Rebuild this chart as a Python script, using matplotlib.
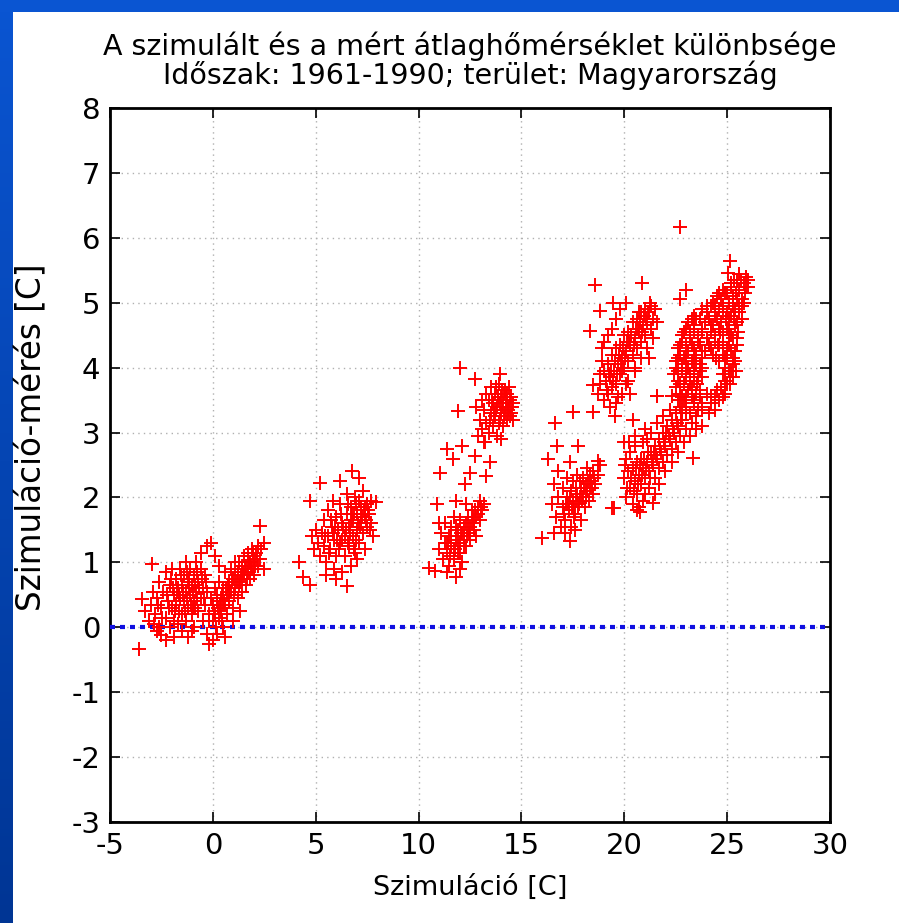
import numpy as np
import matplotlib
matplotlib.use("Agg")
import matplotlib.pyplot as plt
from matplotlib.colors import LinearSegmentedColormap

plt.rcParams['font.family'] = ['DejaVu Sans']
plt.rcParams['axes.unicode_minus'] = False

# ---- data (Szimuláció [C], Szimuláció-mérés [C]) ----
c1_x = [-3.6,-3.45,-2.95,-3.3,-3.1,-3.0,-2.9,-2.8,-2.7,-2.7,-2.6,-2.5,-2.5,-2.4,-2.3,-2.3,-2.2,-2.1,-2.1,-2.0,
        -2.0,-1.9,-1.9,-1.8,-1.8,-1.7,-1.7,-1.6,-1.6,-1.5,-1.5,-1.4,-1.4,-1.3,-1.3,-1.3,-1.2,-1.2,-1.1,-1.1,
        -1.0,-1.0,-1.0,-0.9,-0.9,-0.8,-0.8,-0.7,-0.7,-0.6,-0.6,-0.5,-0.5,-0.4,-0.4,-0.3,-0.3,-0.6,-1.2,-1.9,
        -2.3,-0.9,-2.6,-1.5,-0.2,-1.45,-1.15,-0.85,-1.65,-0.55,-1.25,-0.95,-1.75,-2.15,-0.45,
        -2.45,-2.25,-2.05,-1.85,-1.65,-1.55,-1.35,-1.25,-1.05,-0.95,-0.75,-0.65,-0.85,-1.15,-1.45,-0.35,
        -0.75,-1.95,-2.65,-2.85]
c1_y = [-0.33,0.44,0.97,0.25,0.1,0.35,0.55,0.2,-0.05,0.45,0.7,0.3,-0.12,0.55,0.15,0.85,0.4,0.0,0.65,0.3,
        0.9,0.5,0.1,0.75,0.35,0.05,0.6,0.45,0.9,0.2,0.65,0.4,0.8,0.1,0.55,1.0,0.3,0.7,0.5,0.9,
        0.2,0.65,-0.05,0.4,0.8,0.55,1.0,0.25,0.7,0.45,0.9,0.1,0.6,0.35,0.8,0.55,1.25,1.15,-0.15,-0.15,
        -0.2,0.0,0.0,-0.05,0.1,0.5,0.6,0.65,0.25,0.75,0.85,0.3,0.55,0.3,0.45,
        0.15,0.5,0.75,0.25,0.5,0.8,0.25,0.45,0.35,0.55,0.45,0.6,0.3,0.75,0.55,0.7,
        0.85,0.6,0.35,0.05]

c2_x = [-0.3,-0.2,-0.1,0.0,0.0,0.0,0.1,0.1,0.2,0.2,0.3,0.3,0.4,0.4,0.5,0.5,0.6,0.6,0.7,0.7,
        0.8,0.8,0.9,0.9,1.0,1.0,1.1,1.1,1.2,1.2,1.3,1.4,1.4,1.5,1.5,1.6,1.6,1.7,1.7,1.8,
        1.8,1.9,1.9,2.0,2.0,2.1,2.2,2.2,2.3,2.5,2.3,0.1,-0.1,0.6,1.0,2.5,0.3,-0.2,1.3,0.25,
        0.55,0.85,1.15,1.45,1.75,2.05,0.45,0.75,1.05,1.35,1.65,1.95,
        0.05,0.35,0.65,0.95,1.25,1.55,1.85,2.15,0.2,0.5,0.8,1.1,1.4,1.7,2.0,0.15,0.45,1.25,1.95,2.35]
c2_y = [-0.1,0.2,0.45,-0.2,0.1,0.35,0.6,0.2,-0.1,0.4,0.15,0.7,0.45,0.25,0.0,0.6,0.35,0.85,0.5,0.2,
        0.7,0.4,0.9,0.55,0.3,0.75,0.6,1.0,0.45,0.85,0.7,0.95,0.55,0.8,1.1,0.65,0.95,0.85,1.15,0.75,
        1.0,0.9,1.2,1.05,0.8,1.15,0.95,1.25,1.05,1.3,1.56,1.1,1.3,-0.15,0.1,0.9,0.95,-0.25,0.25,0.3,
        0.4,0.55,0.7,0.85,1.0,0.95,0.5,0.65,0.5,0.8,0.75,1.1,
        0.25,0.35,0.6,0.7,0.65,0.9,0.95,1.05,0.5,0.35,0.55,0.8,0.75,1.0,0.95,0.0,0.1,1.0,1.15,1.2]

c3_x = [4.2,4.4,4.7,4.7,5.2,5.85,6.75,6.5,7.8,7.95,4.8,4.9,5.0,5.1,5.2,5.3,5.4,5.4,5.5,5.6,
        5.6,5.7,5.8,5.9,5.9,6.0,6.0,6.1,6.2,6.2,6.3,6.3,6.4,6.4,6.5,6.5,6.6,6.6,6.7,6.7,
        6.8,6.8,6.9,6.9,7.0,7.0,7.1,7.1,7.2,7.2,7.3,7.3,7.4,7.5,7.5,7.6,7.7,7.7,7.4,6.0,
        5.5,7.0,6.2,7.1,6.45,6.75,7.05,7.35,6.15,5.85,6.55,6.95,7.25,
        5.75,6.05,6.35,6.65,6.85,7.15,7.45,7.55,6.25,6.55,6.85,5.45,5.65,7.65,6.95,6.3,7.2,6.7,5.95,7.4]
c3_y = [1.0,0.77,0.65,1.95,2.23,1.95,2.41,0.64,1.41,1.93,1.4,1.2,1.5,1.3,1.1,1.45,1.25,1.65,1.0,1.4,
        1.8,1.2,1.55,0.9,1.35,1.7,1.1,1.5,1.3,1.9,0.85,1.6,1.1,1.4,1.75,2.05,1.25,1.55,0.95,1.85,
        1.4,1.65,1.15,2.0,1.5,1.75,1.3,1.95,1.6,1.85,1.45,2.1,1.7,1.55,1.9,1.75,1.6,1.95,1.2,0.75,
        0.8,1.05,2.25,2.3,1.5,1.75,1.6,1.8,1.2,1.45,1.3,1.35,1.7,
        1.65,1.35,1.55,1.45,1.75,1.55,1.65,1.8,1.75,1.9,1.2,1.4,1.15,1.5,1.9,1.35,1.7,1.65,1.55,1.85]

c4_x = [10.5,10.8,11.8,11.8,10.9,11.0,11.1,11.2,11.3,11.3,11.4,11.5,11.5,11.6,11.6,11.7,11.8,11.9,11.9,12.0,
        12.0,12.1,12.2,12.2,12.3,12.4,12.4,12.5,12.6,12.6,12.7,12.8,12.9,13.0,13.0,13.1,13.2,12.8,11.0,11.4,
        12.3,11.7,12.0,11.45,11.75,12.05,12.35,12.65,
        11.6,11.9,12.1,12.3,12.5,12.7,11.8,12.0,11.4,12.2,12.9,11.7,12.45,12.75,11.55,13.05]
c4_y = [0.92,0.87,0.77,1.95,1.9,1.2,1.45,1.05,1.3,1.6,1.15,1.4,0.95,1.25,1.55,1.05,1.35,1.15,1.5,1.3,
        1.65,1.0,1.4,1.55,1.25,1.5,1.7,1.35,1.6,1.8,1.5,1.7,1.85,1.65,1.95,1.8,1.9,1.4,1.6,0.85,
        1.9,1.7,0.9,1.3,1.2,1.45,1.4,1.7,
        1.4,1.3,1.45,1.6,1.55,1.65,1.55,1.15,1.3,1.25,1.75,1.2,1.45,1.8,1.1,1.85]

c5_x = [12.0,12.74,13.96,11.93,11.37,11.04,12.26,13.3,12.5,11.69,12.1,13.47,12.74,13.23,
        12.9,13.0,13.1,13.2,13.2,13.3,13.4,13.4,13.5,13.5,13.6,13.6,13.7,13.7,13.8,13.8,
        13.9,13.9,14.0,14.0,14.1,14.1,14.2,14.2,14.3,14.3,14.4,14.4,14.5,14.5,14.6,13.3,
        13.1,12.8,14.6,14.0,13.85,14.15,14.35,13.65,13.95,14.25,
        13.75,13.85,14.05,14.15,14.25,14.35,14.45,13.55,13.65,13.95,14.05,14.3,14.55,13.45,13.75,14.45]
c5_y = [4.0,3.82,3.9,3.33,2.74,2.38,2.2,2.33,2.38,2.59,2.79,2.54,2.64,2.85,
        2.95,3.2,3.05,3.35,2.85,3.15,3.5,3.0,3.3,3.7,3.1,3.45,3.25,3.6,2.95,3.4,
        3.15,3.75,3.3,3.55,3.1,3.45,3.3,3.65,3.2,3.5,3.4,3.7,3.3,3.55,3.45,3.6,
        3.5,3.4,3.2,2.9,3.5,3.25,3.35,3.35,3.45,3.55,
        3.35,3.55,3.4,3.6,3.4,3.3,3.5,3.5,3.3,3.2,3.65,3.6,3.4,3.2,3.7,3.25]

c6_x = [16.0,17.36,19.39,16.3,16.63,17.52,17.77,16.71,17.36,18.74,
        16.5,16.6,16.7,16.8,16.8,16.9,17.0,17.0,17.1,17.2,17.2,17.3,17.4,17.4,17.5,17.5,
        17.6,17.7,17.7,17.8,17.9,17.9,18.0,18.0,18.1,18.2,18.2,18.3,18.4,18.5,18.5,18.6,
        18.7,17.1,16.6,17.6,18.8,17.25,17.55,17.85,18.15,18.35,
        17.15,17.45,17.65,17.75,17.95,18.05,18.25,18.45,17.35,17.55,17.85,18.15,18.35,17.05,18.55,17.65]
c6_y = [1.38,1.33,1.84,2.59,3.15,3.31,2.79,2.79,2.54,2.56,
        1.9,2.2,1.7,2.0,2.4,1.55,1.85,2.15,1.65,2.0,2.3,1.8,2.1,1.55,1.95,2.25,
        1.75,2.05,2.35,1.9,2.15,1.65,2.0,2.3,1.85,2.1,2.45,1.95,2.25,2.05,2.4,2.2,
        2.35,1.45,1.45,1.5,2.5,1.9,1.85,2.0,2.2,2.15,
        1.9,1.85,2.15,1.85,1.95,2.15,2.25,2.15,2.0,1.7,2.25,2.0,2.35,1.75,2.3,1.95]

c7_x = [18.58,20.85,18.82,18.34,18.5,18.5,19.55,20.44,21.57,19.47,
        19.0,19.1,19.2,19.2,19.3,19.4,19.4,19.5,19.6,19.6,19.7,19.8,19.8,19.9,20.0,20.0,
        20.1,20.2,20.2,20.3,20.4,20.4,20.5,20.6,20.6,20.7,20.8,20.8,20.9,21.0,21.0,21.1,
        21.2,21.3,21.3,19.0,19.3,19.7,20.1,20.5,18.9,21.4,19.85,20.25,20.65,21.05,
        19.35,19.55,19.75,19.95,20.15,20.35,20.55,20.75,20.95,21.15,19.45,19.65,20.05,20.45,20.85,
        19.15,21.25,19.25,19.9,20.7,
        18.8,18.9,19.0,19.2,19.4,19.6,19.8,20.1,18.7,18.8,
        19.6,19.9,20.2,20.5,20.8,21.1,21.4,21.6,21.5,20.3,21.2]
c7_y = [5.28,5.31,4.87,4.57,3.74,3.31,3.26,3.2,3.56,5.0,
        3.5,3.8,3.6,4.05,3.85,3.7,4.2,3.95,3.75,4.3,4.05,3.9,4.35,4.15,4.0,4.5,
        4.25,4.1,4.55,4.35,4.2,4.7,4.45,4.3,4.75,4.55,4.4,4.85,4.65,4.5,4.9,4.7,
        4.85,4.6,4.95,3.95,3.4,3.55,3.75,4.0,4.3,4.75,4.1,4.4,4.6,4.75,
        3.95,4.1,4.2,4.3,4.4,4.5,4.6,4.7,4.8,4.85,3.8,3.9,4.15,4.35,4.55,
        3.65,5.0,3.9,3.95,4.85,
        3.9,4.1,4.4,4.5,4.6,4.75,4.9,5.0,3.6,3.75,
        3.45,3.6,3.8,3.95,4.15,4.3,4.45,4.7,4.9,3.6,4.15]

c8_x = [20.0,20.1,20.1,20.2,20.3,20.3,20.4,20.4,20.5,20.5,20.6,20.6,20.7,20.7,20.8,20.8,20.9,20.9,21.0,21.0,
        21.1,21.1,21.2,21.2,21.3,21.4,21.4,21.5,21.5,21.6,21.7,21.7,21.8,21.9,21.9,22.0,22.1,22.1,22.2,22.3,
        22.3,22.4,22.5,22.5,22.6,22.7,22.7,22.8,22.9,23.0,23.0,20.77,19.5,23.36,21.57,22.3,20.0,21.0,
        20.35,20.55,20.75,20.95,21.15,21.35,21.55,21.75,21.95,22.15,22.35,22.55,22.75,20.45,20.65,20.85,
        21.05,21.25,21.45,22.05,
        20.05,20.15,20.25,20.5,21.3,21.6,21.9,22.2,22.6,22.9,23.2,23.5,23.8,23.3,21.7,22.0,22.3,21.5,20.9,20.6,
        23.2,23.5,23.8,24.1,23.0,23.4,23.8,24.2,
        22.6,23.0,23.4,23.8,24.2,24.6,22.7,23.1,23.5,24.0,24.5,24.9,
        22.5,22.9,23.3,23.7,24.7,25.0,22.6,23.0,23.4,23.8,24.9,25.3,
        22.4,22.8,23.2,23.6,24.8,25.2,22.5,22.8,23.1,23.5,23.8,24.9,25.3,
        22.5,22.9,23.3,23.7,24.6,25.0,25.4,22.7,23.1,23.5,23.9,24.3,24.8,25.2,
        22.6,23.0,23.4,23.8,24.2,24.6,25.0,25.4,22.8,23.2,23.6,24.0,24.4,24.8,25.3,
        22.8,23.2,23.6,24.0,24.4,24.8,25.2,25.5,23.0,23.4,23.8,24.2,24.6,25.0,25.4,
        23.1,23.5,23.9,24.3,24.7,25.1,25.5,23.4,24.0,24.4,24.8,25.2,25.6,
        23.8,24.2,24.6,25.0,25.4,25.7,24.3,24.7,25.1,25.5,25.8,
        24.5,24.9,25.3,25.7,24.8,25.2,25.6,25.9,
        25.2,25.5,25.8,26.0,25.6,25.9,
        22.8,23.6,24.4,22.8,23.3,23.7,24.4,24.8,22.7,23.2,23.55,25.15,
        22.6,23.0,23.4,23.7,25.1,25.45,22.6,23.0,23.4,23.8,24.45,24.9,25.3,
        22.7,23.3,23.7,24.1,24.55,25.1,25.5,22.9,23.4,23.8,24.2,24.65,25.1,25.55,
        23.3,23.7,24.1,24.5,24.95,25.35,25.7,24.0,24.4,24.8,25.3,25.6,
        24.6,25.0,25.45,25.85,25.35,25.65,26.0,
        22.7,25.14,25.06,22.7,23.0]
c8_y = [2.3,2.6,2.0,2.4,2.15,2.7,1.9,2.45,2.25,2.8,2.05,2.55,2.35,1.85,2.6,2.2,2.45,2.85,2.3,2.05,
        2.55,2.9,2.4,2.15,2.7,2.5,1.92,2.8,2.3,2.6,2.9,2.45,2.7,3.0,2.55,2.8,3.1,2.65,2.9,3.2,
        2.75,3.0,3.3,2.85,3.1,3.4,2.95,3.2,3.5,3.05,3.3,1.77,1.84,2.61,3.56,3.56,2.85,3.05,
        2.3,2.45,2.5,2.6,2.7,2.55,2.65,2.75,2.85,2.95,3.05,3.15,3.2,2.1,2.2,2.35,
        2.45,2.3,2.7,3.0,
        2.5,2.15,2.85,2.95,3.0,3.15,3.25,3.35,2.7,2.85,2.95,3.05,3.1,3.15,2.2,2.4,2.55,2.05,1.95,1.8,
        3.3,3.25,3.35,3.3,3.4,3.45,3.4,3.45,
        3.5,3.55,3.5,3.45,3.55,3.5,3.6,3.65,3.6,3.6,3.65,3.6,
        3.7,3.75,3.7,3.65,3.7,3.75,3.8,3.85,3.8,3.85,3.8,3.85,
        3.9,3.95,3.9,3.85,3.9,3.95,4.0,4.05,4.0,4.05,4.0,4.0,4.05,
        4.1,4.15,4.1,4.05,4.1,4.15,4.1,4.2,4.25,4.2,4.25,4.2,4.2,4.25,
        4.3,4.35,4.3,4.25,4.3,4.35,4.3,4.25,4.4,4.45,4.4,4.45,4.4,4.4,4.45,
        4.5,4.55,4.5,4.45,4.5,4.55,4.5,4.45,4.6,4.65,4.6,4.65,4.6,4.6,4.65,
        4.7,4.75,4.7,4.65,4.7,4.75,4.7,4.8,4.85,4.8,4.85,4.8,4.85,
        4.9,4.95,4.9,4.85,4.9,4.95,5.0,5.05,5.0,5.05,5.0,
        5.1,5.15,5.1,5.05,5.2,5.25,5.2,5.25,
        5.3,5.35,5.3,5.25,5.45,5.4,
        3.35,3.35,3.35,3.55,3.55,3.55,3.55,3.55,3.75,3.75,3.75,3.75,
        3.95,3.95,3.95,3.95,3.95,3.95,4.15,4.15,4.15,4.15,4.15,4.15,4.15,
        4.35,4.35,4.35,4.35,4.35,4.35,4.35,4.55,4.55,4.55,4.55,4.55,4.55,4.55,
        4.75,4.75,4.75,4.75,4.75,4.75,4.75,4.95,4.95,4.95,4.95,4.95,
        5.15,5.15,5.15,5.15,5.35,5.35,5.35,
        6.17,5.64,5.46,5.05,5.2]

xs = c1_x + c2_x + c3_x + c4_x + c5_x + c6_x + c7_x + c8_x
ys = c1_y + c2_y + c3_y + c4_y + c5_y + c6_y + c7_y + c8_y

title = "A szimulált és a mért átlaghőmérséklet különbsége\nIdőszak: 1961-1990; terület: Magyarország"
xlabel = "Szimuláció [C]"
ylabel = "Szimuláció-mérés [C]"
xticks = [-5, 0, 5, 10, 15, 20, 25, 30]
yticks = [-3, -2, -1, 0, 1, 2, 3, 4, 5, 6, 7, 8]

W, H = 899, 923
fig = plt.figure(figsize=(W/100, H/100), dpi=100)
fig.patch.set_facecolor('white')

# blue slide frame (left and top strips)
cmap = LinearSegmentedColormap.from_list('slide', ['#0a55d2', '#003594'])
grad = np.linspace(0, 1, 256).reshape(-1, 1)
axl = fig.add_axes([0, 0, 13/W, 1])
axl.imshow(grad, aspect='auto', cmap=cmap, extent=[0, 1, 0, 1], origin='upper')
axl.axis('off')
axt = fig.add_axes([0, 1 - 12/H, 1, 12/H])
axt.imshow(np.array([[0.0]]), aspect='auto', cmap=cmap, vmin=0, vmax=1)
axt.axis('off')

ax = fig.add_axes([110/W, 1 - 822/H, 720/W, 714/H])
ax.set_xlim(-5, 30)
ax.set_ylim(-3, 8)
ax.set_xticks(xticks)
ax.set_yticks(yticks)
ax.tick_params(direction='in', length=7, width=1.2, top=True, right=True,
               labelsize=21, pad=7, colors='black')
ax.grid(True, color='#b0b0b0', linestyle=(0, (1, 3)), linewidth=1.0)
ax.set_axisbelow(True)
for s in ax.spines.values():
    s.set_linewidth(2)

ax.axhline(0, color='#1010e0', linestyle=(0, (1.2, 1.2)), linewidth=3, zorder=3)
ax.plot(xs, ys, linestyle='none', marker='+', markersize=9.5, markeredgewidth=1.4,
        color='#ff0000', zorder=4)

ax.set_title(title, fontsize=20.5, pad=17, linespacing=1.0)
ax.set_xlabel(xlabel, fontsize=19.5, labelpad=11)
ax.set_ylabel(ylabel, fontsize=23.5)
ax.yaxis.set_label_coords(-0.086, 0.539)

fig.savefig('out.png', dpi=100)
